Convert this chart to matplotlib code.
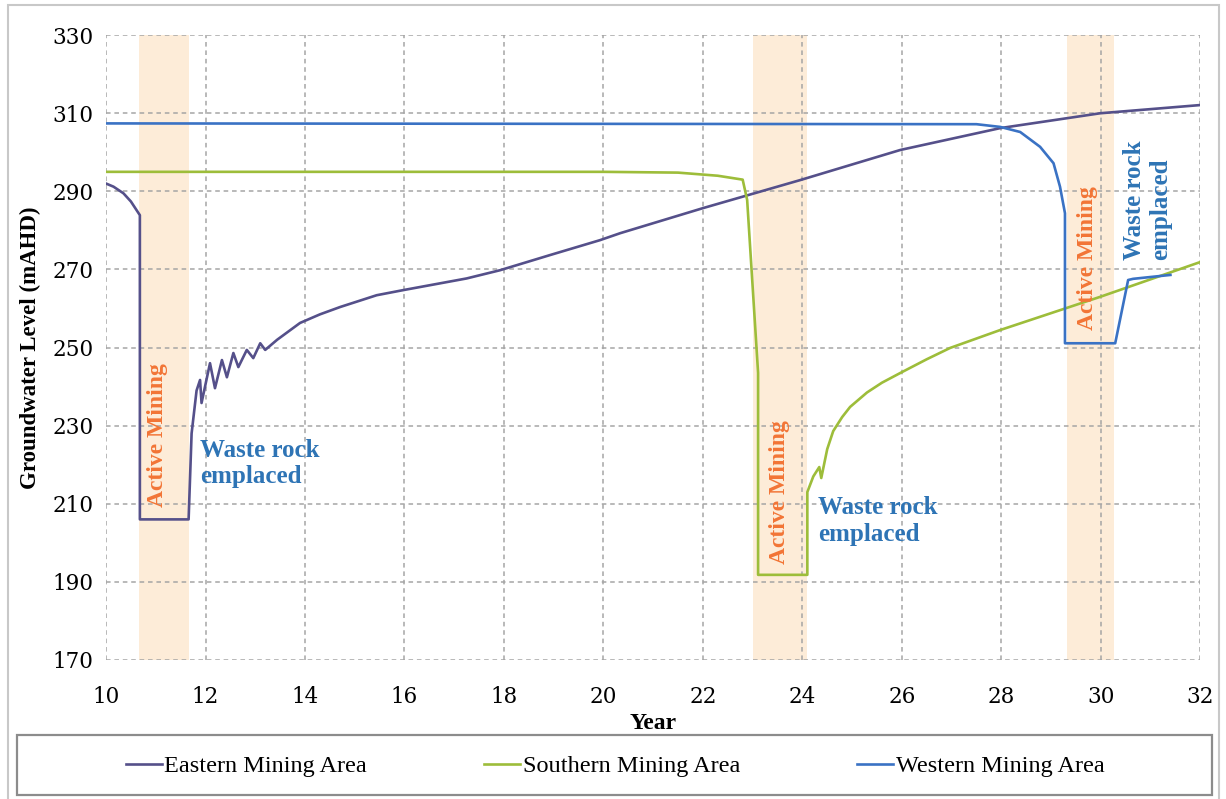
import matplotlib
matplotlib.use("Agg")
import matplotlib.pyplot as plt
from matplotlib.patches import Rectangle

# Groundwater level series (year, mAHD)
eastern_year = [10.0, 10.15, 10.35, 10.5, 10.68, 10.68, 11.66, 11.72, 11.82, 11.89, 11.92,
                12.09, 12.19, 12.33, 12.43, 12.56, 12.66, 12.83, 12.96, 13.10, 13.20,
                13.44, 13.90, 14.30, 14.71, 15.10, 15.44, 15.97, 17.25, 17.92, 18.93, 19.93,
                20.34, 22.0, 23.96, 25.97, 27.98, 29.99, 32.0]
eastern_level = [292.0, 291.2, 289.5, 287.4, 283.9, 206.0, 206.0, 228.0, 239.0, 241.7, 235.8,
                 246.0, 239.6, 246.8, 242.4, 248.6, 245.0, 249.4, 247.3, 251.1, 249.4,
                 252.0, 256.3, 258.5, 260.4, 262.0, 263.4, 264.7, 267.7, 269.8, 273.7, 277.5,
                 279.3, 285.7, 292.9, 300.6, 306.2, 310.0, 312.1]

southern_year = [10.0, 20.0, 21.5, 22.3, 22.8, 22.89, 23.11, 23.11, 24.10, 24.10, 24.22,
                 24.34, 24.38, 24.50, 24.62, 24.80, 24.96, 25.30, 25.60, 25.97, 26.50,
                 26.97, 27.98, 29.99, 32.0]
southern_level = [295.0, 295.0, 294.8, 294.0, 293.0, 287.8, 243.5, 191.8, 191.8, 213.0, 217.0,
                  219.4, 216.6, 224.0, 228.6, 232.2, 234.8, 238.5, 241.0, 243.5, 247.0,
                  249.9, 254.5, 263.0, 271.9]

western_year = [10.0, 27.5, 27.98, 28.38, 28.78, 29.05, 29.18, 29.28, 29.28, 30.29,
                30.55, 30.65, 31.40]
western_level = [307.4, 307.2, 306.5, 305.2, 301.4, 297.2, 291.2, 284.4, 251.1, 251.1,
                 267.3, 267.6, 268.6]

# Active mining periods (start year, end year)
mining_periods = [(10.66, 11.67), (23.0, 24.1), (29.33, 30.26)]

x_ticks = list(range(10, 33, 2))
y_ticks = list(range(170, 331, 20))

series_labels = ["Eastern Mining Area", "Southern Mining Area", "Western Mining Area"]
series_colors = ["#55508a", "#9dbd3a", "#3a72c4"]

plt.rcParams["font.family"] = ["Liberation Serif", "DejaVu Serif"]

fig = plt.figure(figsize=(12.26, 7.99), dpi=100)
ax = fig.add_axes([0.0865, 0.174, 0.8925, 0.782])

for start, end in mining_periods:
    ax.axvspan(start, end, color="#fde6cc", alpha=0.75, lw=0, zorder=0)

lines = []
for xs, ys, lab, col in zip([eastern_year, southern_year, western_year],
                            [eastern_level, southern_level, western_level],
                            series_labels, series_colors):
    ln, = ax.plot(xs, ys, color=col, lw=1.9, label=lab, zorder=3,
                  solid_joinstyle="round")
    lines.append(ln)

ax.set_xlim(10, 32)
ax.set_ylim(170, 330)
ax.set_xticks(x_ticks)
ax.set_yticks(y_ticks)
ax.tick_params(axis="y", length=0, pad=9)
ax.tick_params(axis="x", length=0, pad=19)
for lbl in ax.get_xticklabels() + ax.get_yticklabels():
    lbl.set_family("DejaVu Serif")
    lbl.set_fontsize(15.5)
ax.grid(True, color="#a5a5a5", linestyle=(0, (3, 2.5)), lw=1.1, zorder=1)
for s in ax.spines.values():
    s.set_visible(False)
ax.set_axisbelow(True)

ax.set_xlabel("Year", fontsize=17, fontweight="bold", labelpad=3)
ax.set_ylabel("Groundwater Level (mAHD)", fontsize=16.5, fontweight="bold", labelpad=8)

# Annotations
mining_color = "#f27536"
waste_color = "#2e74b5"
for xm, ym in [(11.03, 227.6), (23.55, 213.0), (29.73, 273.0)]:
    ax.text(xm, ym, "Active Mining", rotation=90, color=mining_color, fontsize=17,
            fontweight="bold", ha="center", va="center", zorder=4)

ax.text(11.89, 220.3, "Waste rock\nemplaced", color=waste_color, fontsize=18, fontweight="bold",
        ha="left", va="center", linespacing=1.2, zorder=4)
ax.text(24.32, 205.6, "Waste rock\nemplaced", color=waste_color, fontsize=18, fontweight="bold",
        ha="left", va="center", linespacing=1.2, zorder=4)
ax.text(30.94, 287.7, "Waste rock\nemplaced", color=waste_color, fontsize=18, fontweight="bold",
        rotation=90, ha="center", va="center", linespacing=1.2, multialignment="left", zorder=4)

# Legend below the chart, inside its own box
fig.legend(handles=lines, loc="center", bbox_to_anchor=(0.5016, 0.041), ncol=3, fontsize=17.5,
           frameon=False, handlelength=1.5, handletextpad=0.1, columnspacing=4.8)
fig.patches.append(Rectangle((0.0139, 0.005), 0.9747, 0.075, transform=fig.transFigure,
                             fill=False, edgecolor="#8c8c8c", lw=1.6))

# outer chart border
fig.patches.append(Rectangle((0.0065, -0.01), 0.9875, 1.0035, transform=fig.transFigure,
                             fill=False, edgecolor="#c8c8c8", lw=1.5))

fig.savefig("out.png", dpi=100)
